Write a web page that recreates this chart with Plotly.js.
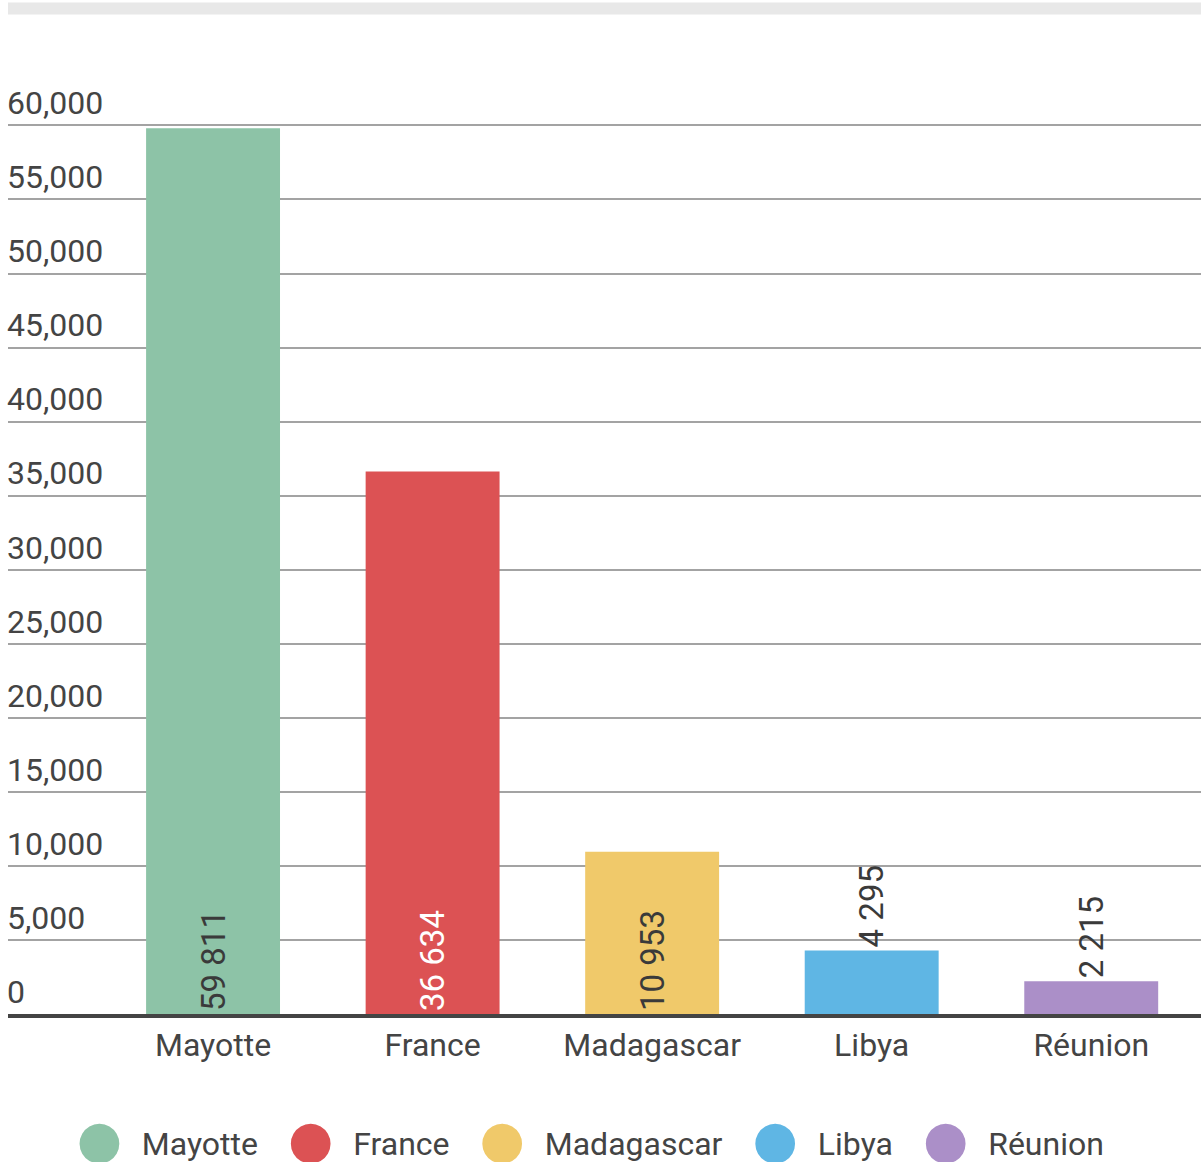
<!DOCTYPE html>
<html>
<head>
<meta charset="utf-8">
<script src="https://cdn.plot.ly/plotly-3.0.1.min.js"></script>
<style>html,body{margin:0;padding:0;background:#fff;}#chart{width:1201px;height:1162px;}</style>
</head>
<body>
<div id="chart"></div>
<script>
const categories = ['Mayotte', 'France', 'Madagascar', 'Libya', 'Réunion'];
const values = [59811, 36634, 10953, 4295, 2215];
const colors = ['#8dc3a7', '#dc5254', '#f0c96a', '#5fb6e4', '#ab8fc8'];
const labelColors = ['#3a3a3a', '#ffffff', '#3a3a3a', '#3a3a3a', '#3a3a3a'];
const labelPositions = ['inside', 'inside', 'inside', 'outside', 'outside'];
const tickValues = [0, 5000, 10000, 15000, 20000, 25000, 30000, 35000, 40000, 45000, 50000, 55000, 60000];

function spaceSep(v) {
  return String(v).replace(/\B(?=(\d{3})+(?!\d))/g, ' ');
}

const traces = [{
  type: 'bar',
  x: categories,
  y: values,
  width: 0.61,
  marker: {color: colors},
  text: values.map(spaceSep),
  textposition: labelPositions,
  textangle: -90,
  insidetextanchor: 'start',
  constraintext: 'none',
  cliponaxis: false,
  textfont: {family: 'Roboto', size: 33, color: labelColors},
  insidetextfont: {family: 'Roboto', size: 33, color: labelColors},
  outsidetextfont: {family: 'Roboto', size: 33, color: '#3a3a3a'},
  showlegend: false,
  hoverinfo: 'x+y'
}];

categories.forEach((c, i) => {
  traces.push({
    type: 'scatter',
    mode: 'markers',
    x: [categories[0]],
    y: [null],
    name: '<span style="font-family:DejaVu Sans;font-size:52px;baseline-shift:-2px;fill:' + colors[i] + ';color:' + colors[i] + '">●</span><span style="font-size:40px">&nbsp;&nbsp;</span>' + c,
    marker: {size: 1, color: 'rgba(0,0,0,0)'},
    showlegend: true,
    hoverinfo: 'skip'
  });
});

const layout = {
  width: 1201,
  height: 1162,
  margin: {l: 8, r: 0, t: 80.5, b: 148},
  paper_bgcolor: '#ffffff',
  plot_bgcolor: '#ffffff',
  font: {family: 'Roboto', color: '#444444', size: 32},
  bargap: 0.39,
  xaxis: {
    type: 'category',
    range: [-0.934, 4.5],
    showgrid: false,
    showline: true,
    linecolor: '#444444',
    linewidth: 4,
    ticks: '',
    tickfont: {family: 'Roboto', size: 32, color: '#444444'},
    fixedrange: true
  },
  yaxis: {
    range: [0, 63000],
    tickvals: tickValues,
    tickformat: ',d',
    ticklabelposition: 'inside top',
    ticklabelstandoff: -4,
    showgrid: true,
    gridcolor: '#a3a3a3',
    gridwidth: 2,
    zeroline: false,
    showline: false,
    ticks: '',
    tickfont: {family: 'Roboto', size: 32, color: '#444444'},
    fixedrange: true
  },
  showlegend: true,
  legend: {
    orientation: 'h',
    xref: 'paper',
    x: 0.48,
    xanchor: 'center',
    yref: 'container',
    y: 0.0164,
    yanchor: 'middle',
    itemwidth: 30,
    indentation: -15,
    font: {family: 'Roboto', size: 32, color: '#444444'},
    bgcolor: 'rgba(0,0,0,0)',
    itemclick: false,
    itemdoubleclick: false
  },
  shapes: [{
    type: 'rect',
    xref: 'paper', yref: 'paper',
    x0: 0, x1: 1,
    y0: 1.0712, y1: 1.0841,
    fillcolor: '#e8e8e8',
    line: {width: 0},
    layer: 'below'
  }]
};

Plotly.newPlot('chart', traces, layout, {displayModeBar: false, staticPlot: true});
</script>
</body>
</html>
